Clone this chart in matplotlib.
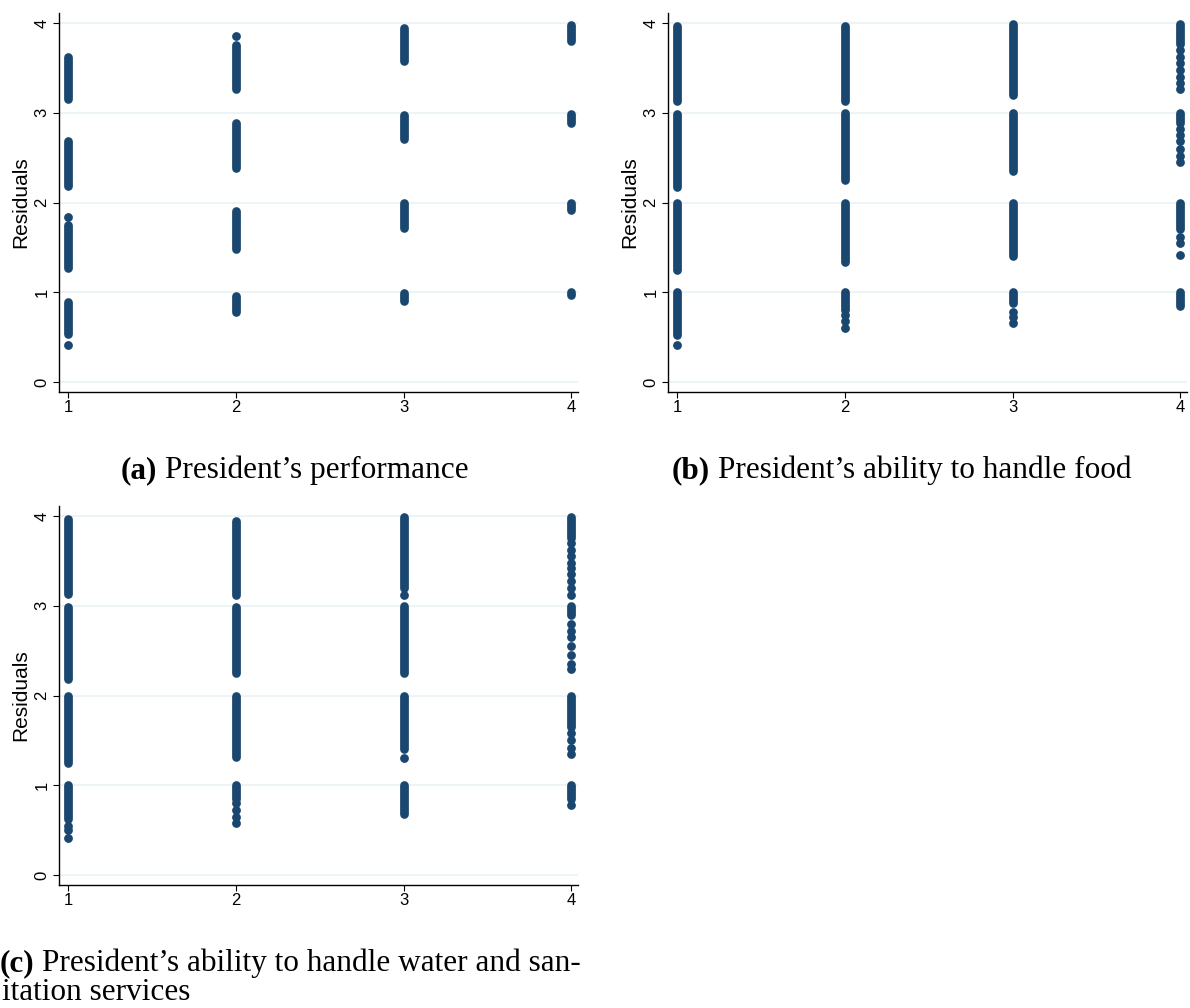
import numpy as np
import matplotlib
matplotlib.use("Agg")
import matplotlib.pyplot as plt

plt.rcParams["font.family"] = ["Liberation Sans", "DejaVu Sans"]

W, H = 1190, 1008
navy = "#1a476f"
grid_col = "#eaf2f3"

xticks = [1, 2, 3, 4]
yticks = [0, 1, 2, 3, 4]

# dense vertical runs of residuals: x category, lowest and highest value
a_band_x = [1, 1, 1, 1, 2, 2, 2, 2, 3, 3, 3, 3, 4, 4, 4, 4]
a_band_lo = [3.15, 2.18, 1.27, 0.54, 3.26, 2.38, 1.48, 0.78, 3.58, 2.71, 1.72, 0.90, 3.80, 2.89, 1.92, 0.97]
a_band_hi = [3.62, 2.69, 1.75, 0.89, 3.75, 2.88, 1.91, 0.96, 3.94, 2.97, 1.99, 0.99, 3.98, 2.99, 1.99, 1.00]
a_pt_x = [1, 1, 2]
a_pt_y = [1.84, 0.41, 3.85]

b_band_x = [1, 1, 1, 1, 2, 2, 2, 2, 3, 3, 3, 3, 4, 4, 4, 4]
b_band_lo = [3.13, 2.17, 1.25, 0.53, 3.13, 2.25, 1.34, 0.80, 3.20, 2.35, 1.40, 0.88, 3.77, 2.88, 1.70, 0.85]
b_band_hi = [3.97, 2.99, 2.00, 1.00, 3.97, 3.00, 2.00, 1.00, 3.99, 3.00, 2.00, 1.00, 3.99, 3.00, 2.00, 1.00]
b_pt_x = [1, 2, 2, 2, 3, 3, 3, 4, 4, 4, 4, 4, 4, 4, 4, 4, 4, 4, 4, 4, 4, 4, 4]
b_pt_y = [0.41, 0.75, 0.68, 0.60, 0.78, 0.72, 0.66,
          3.70, 3.62, 3.55, 3.48, 3.40, 3.33, 3.26,
          2.82, 2.75, 2.68, 2.60, 2.52, 2.45, 1.62, 1.55, 1.42]

c_band_x = [1, 1, 1, 1, 2, 2, 2, 2, 3, 3, 3, 3, 4, 4, 4, 4]
c_band_lo = [3.13, 2.18, 1.25, 0.62, 3.12, 2.25, 1.31, 0.85, 3.20, 2.25, 1.40, 0.68, 3.75, 2.90, 1.65, 0.85]
c_band_hi = [3.97, 2.99, 2.00, 1.00, 3.94, 2.98, 2.00, 1.00, 3.99, 3.00, 2.00, 1.00, 3.99, 3.00, 2.00, 1.00]
c_pt_x = [1, 1, 1, 2, 2, 2, 2, 3, 3, 4, 4, 4, 4, 4, 4, 4, 4, 4, 4, 4, 4, 4, 4, 4, 4, 4, 4, 4, 4, 4]
c_pt_y = [0.55, 0.50, 0.41, 0.80, 0.72, 0.65, 0.58, 3.12, 1.30,
          3.70, 3.62, 3.55, 3.48, 3.42, 3.35, 3.28, 3.20, 3.12,
          2.80, 2.72, 2.65, 2.55, 2.45, 2.35, 2.30,
          1.58, 1.50, 1.42, 1.35, 0.78]

captions = [("(a)", "President\u2019s performance"),
            ("(b)", "President\u2019s ability to handle food"),
            ("(c)", "President\u2019s ability to handle water and san-\nitation services")]

fig = plt.figure(figsize=(W / 100, H / 100), dpi=100)


def px_axes(left, top, right, bottom):
    return fig.add_axes([left / W, 1 - bottom / H, (right - left) / W, (bottom - top) / H])


def panel(ax, bx, blo, bhi, px, py):
    lc = ax.vlines(bx, blo, bhi, colors=navy, lw=6.3)
    lc.set_capstyle("round")
    ax.scatter(px, py, s=40, color=navy, linewidths=0, zorder=3)
    ax.set_xlim(0.946, 4.04)
    ax.set_ylim(-0.11, 4.11)
    ax.set_xticks(xticks)
    ax.set_yticks(yticks)
    ax.yaxis.grid(True, color=grid_col, lw=1.2)
    ax.set_axisbelow(True)
    for s in ["top", "right"]:
        ax.spines[s].set_visible(False)
    ax.spines["left"].set_linewidth(1.0)
    ax.spines["bottom"].set_linewidth(1.0)
    ax.tick_params(axis="y", direction="out", length=4, labelsize=12, pad=3)
    ax.tick_params(axis="x", direction="out", length=4, labelsize=12, pad=2)
    for lab in ax.get_yticklabels():
        lab.set_rotation(90)
        lab.set_va("center")
    ax.set_ylabel("Residuals", fontsize=15, labelpad=3)


ax1 = px_axes(59, 13, 578, 392)
panel(ax1, a_band_x, a_band_lo, a_band_hi, a_pt_x, a_pt_y)
ax2 = px_axes(668, 13, 1187, 392)
panel(ax2, b_band_x, b_band_lo, b_band_hi, b_pt_x, b_pt_y)
ax3 = px_axes(59, 506, 578, 885)
panel(ax3, c_band_x, c_band_lo, c_band_hi, c_pt_x, c_pt_y)

serif = ["Liberation Serif", "DejaVu Serif"]
cap_fs = 22.5


def caption(xb, xr, y, bold, rest):
    fig.text(xb / W, 1 - y / H, bold, ha="right", va="baseline", fontsize=cap_fs,
             family=serif, weight="bold")
    fig.text(xr / W, 1 - y / H, rest, ha="left", va="baseline", fontsize=cap_fs,
             family=serif)


caption(157, 165, 478, *captions[0])
caption(710, 718, 478, *captions[1])
line1, line2 = captions[2][1].split("\n")
caption(34, 42, 971, captions[2][0], line1)
fig.text(2 / W, 1 - 1000 / H, line2, ha="left", va="baseline",
         fontsize=cap_fs, family=serif)

fig.savefig("out.png", dpi=100)
